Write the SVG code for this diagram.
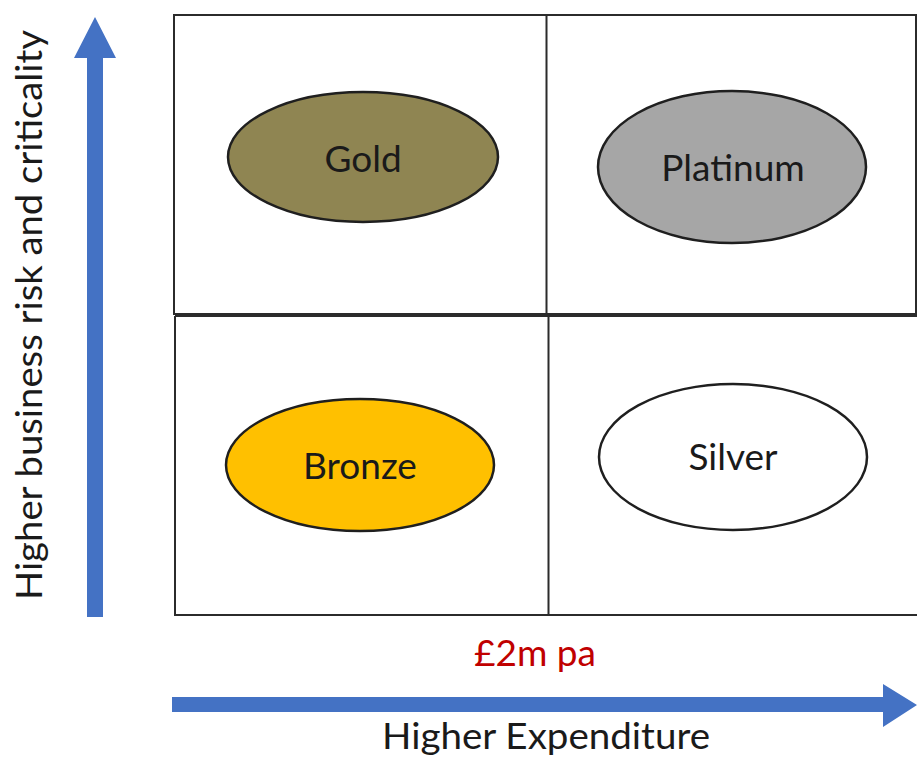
<svg xmlns="http://www.w3.org/2000/svg" width="917" height="758" viewBox="0 0 917 758">
  <style>
    .grid { fill: none; stroke: #2b2b2b; stroke-width: 2; }
    .oval { stroke: #1f1f1f; stroke-width: 2.5; }
    .lbl { font-family: Lato, "Open Sans", "Liberation Sans", sans-serif; font-size: 37px; fill: #1a1a1a; text-anchor: middle; }
    .axis { fill: #4472c4; }
  </style>
  <rect width="917" height="758" fill="#ffffff"/>

  <!-- quadrant grid -->
  <g id="grid">
    <rect class="grid" x="174" y="15" width="742" height="299"/>
    <line class="grid" x1="546.5" y1="15" x2="546.5" y2="314"/>
    <polyline class="grid" points="175,316 175,615 918,615"/>
    <line class="grid" x1="175" y1="316" x2="918" y2="316"/>
    <line class="grid" x1="548.5" y1="316" x2="548.5" y2="615"/>
  </g>

  <!-- axes -->
  <g id="connectors">
    <polygon class="axis" points="87,617 87,58 74,58 95,17 116,58 103,58 103,617"/>
    <polygon class="axis" points="172,697 883,697 883,684 917,705 883,727 883,712 172,712"/>
  </g>

  <g id="gold">
    <ellipse class="oval" cx="363" cy="157" rx="135" ry="65" fill="#8f8552"/>
    <text class="lbl" x="363" y="172">Gold</text>
  </g>
  <g id="platinum">
    <ellipse class="oval" cx="732" cy="167" rx="134" ry="76" fill="#a6a6a6"/>
    <text class="lbl" x="733" y="181">Platinum</text>
  </g>
  <g id="bronze">
    <ellipse class="oval" cx="360" cy="465" rx="134" ry="66" fill="#ffc000"/>
    <text class="lbl" x="360" y="479">Bronze</text>
  </g>
  <g id="silver">
    <ellipse class="oval" cx="733" cy="457" rx="134" ry="73" fill="#ffffff"/>
    <text class="lbl" x="733" y="470">Silver</text>
  </g>

  <g id="labels">
    <text class="lbl" x="535" y="666" style="fill:#c00000">£2m pa</text>
    <text class="lbl" x="546" y="749" textLength="328" lengthAdjust="spacingAndGlyphs">Higher Expenditure</text>
    <text class="lbl" transform="translate(42,315) rotate(-90)" textLength="570" lengthAdjust="spacingAndGlyphs">Higher business risk and criticality</text>
  </g>
</svg>
